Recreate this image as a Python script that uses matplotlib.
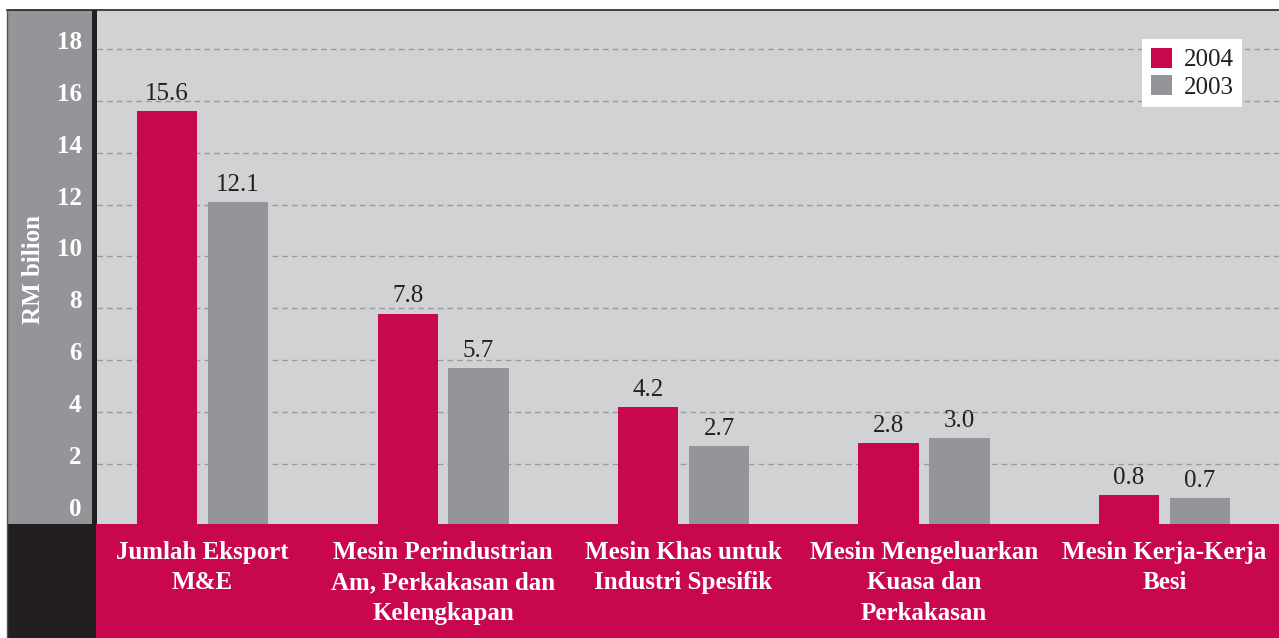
import matplotlib
matplotlib.use("Agg")
import matplotlib.pyplot as plt
from matplotlib.patches import Rectangle
import numpy as np

categories = ["Jumlah Eksport\nM&E",
              "Mesin Perindustrian\nAm, Perkakasan dan\nKelengkapan",
              "Mesin Khas untuk\nIndustri Spesifik",
              "Mesin Mengeluarkan\nKuasa dan\nPerkakasan",
              "Mesin Kerja-Kerja\nBesi"]
values_2004 = [15.6, 7.8, 4.2, 2.8, 0.8]
values_2003 = [12.1, 5.7, 2.7, 3.0, 0.7]
yticks = [0, 2, 4, 6, 8, 10, 12, 14, 16, 18]

CRIMSON = "#C8074F"
GRAY = "#939598"
BG = "#D1D2D4"
DARK = "#231F20"
SERIF = "Liberation Serif"

W, H = 1279, 638
fig = plt.figure(figsize=(W / 100, H / 100), dpi=100)
fig.patch.set_facecolor("white")

def fx(px):
    return px / W

def fy(px):
    return 1 - px / H

# background panels (figure coords)
for (x0, y0, x1, y1, c) in [(7, 10, 92, 524, GRAY), (92, 10, 97, 524, DARK),
                            (96, 524, W, H, CRIMSON), (7, 524, 96, H, DARK)]:
    fig.patches.append(Rectangle((fx(x0), fy(y1)), fx(x1) - fx(x0), fy(y0) - fy(y1),
                                 transform=fig.transFigure, facecolor=c, edgecolor="none", zorder=-5))
fig.lines.append(plt.Line2D([fx(7), 1], [fy(10), fy(10)], transform=fig.transFigure,
                            color=DARK, lw=1.2, zorder=-4))
fig.lines.append(plt.Line2D([fx(7), fx(7)], [0, fy(10)], transform=fig.transFigure,
                            color="#555555", lw=1.0, zorder=-4))

ax = fig.add_axes([fx(97), fy(524), fx(1279) - fx(97), fy(11) - fy(524)])
ax.set_facecolor(BG)
ymin, ymax = -0.3, 19.45
ax.set_ylim(ymin, ymax)
x = np.arange(len(categories))
ax.set_xlim(-0.439, 4.476)

bw = 0.25
off = 0.1476
ax.bar(x - off, np.array(values_2004) - ymin, bottom=ymin, width=bw, color=CRIMSON, zorder=3, label="2004")
ax.bar(x + off, np.array(values_2003) - ymin, bottom=ymin, width=bw, color=GRAY, zorder=3, label="2003")

for xs, vals in ((x - off, values_2004), (x + off, values_2003)):
    for xi, v in zip(xs, vals):
        ax.annotate(f"{v:.1f}", (xi, v), xytext=(0, 8), textcoords="offset points",
                    ha="center", va="baseline", fontsize=18, family=SERIF, color=DARK)

# gridlines (not at 0)
for t in yticks[1:]:
    ax.axhline(t, color="#9A9A9C", lw=1.0, ls=(0, (4, 3)), zorder=1)

ax.set_yticks(yticks)
ax.set_yticklabels([str(t) for t in yticks])
ax.tick_params(axis="y", length=0, pad=11)
for lab in ax.get_yticklabels():
    lab.set_fontfamily(SERIF)
    lab.set_fontweight("bold")
    lab.set_fontsize(18)
    lab.set_color("white")
    lab.set_va("baseline")

ax.set_xticks(x)
ax.set_xticklabels(categories)
ax.tick_params(axis="x", length=0, pad=12)
for lab in ax.get_xticklabels():
    lab.set_fontfamily(SERIF)
    lab.set_fontweight("bold")
    lab.set_fontsize(18)
    lab.set_color("white")
    lab.set_linespacing(1.42)

fig.text(fx(33), fy(270), "RM bilion", rotation=90, ha="center", va="center",
         fontsize=18, fontweight="bold", family=SERIF, color="white")

for s in ax.spines.values():
    s.set_visible(False)

leg = ax.legend(loc="upper right", bbox_to_anchor=(0.969, 0.9455), frameon=True, fancybox=False,
                prop={"family": SERIF, "size": 18}, handlelength=0.85, handleheight=0.85,
                handletextpad=0.45, borderpad=0.35, labelspacing=0.15, borderaxespad=0)
leg.get_frame().set_facecolor("white")
leg.get_frame().set_edgecolor("none")
leg.get_frame().set_alpha(1)
for t in leg.get_texts():
    t.set_color(DARK)

fig.savefig("out.png", dpi=100)
